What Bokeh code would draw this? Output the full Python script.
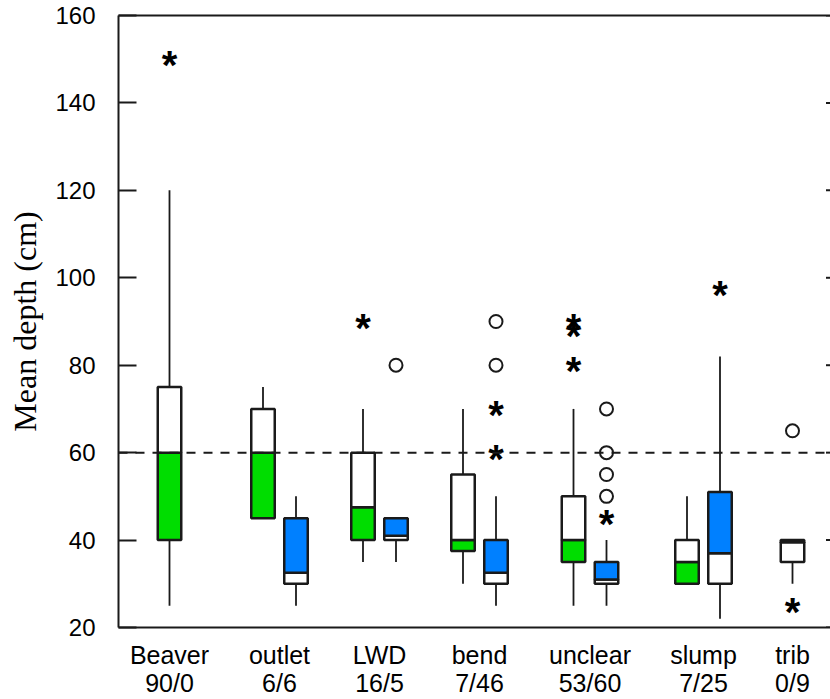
from bokeh.plotting import figure
from bokeh.models import Range1d, LinearAxis, FixedTicker, Span
from bokeh.core.properties import value
from bokeh.embed import file_html
from bokeh.resources import INLINE

# ---------------- data ----------------
categories = ["Beaver", "outlet", "LWD", "bend", "unclear", "slump", "trib"]
counts = ["90/0", "6/6", "16/5", "7/46", "53/60", "7/25", "0/9"]

# green series: lower whisker, Q1, median, Q3, upper whisker (None = no data)
g_lo = [25, 45, 35, 30, 25, 30, None]
g_q1 = [40, 45, 40, 37.5, 35, 30, None]
g_med = [60, 60, 47.5, 40, 40, 35, None]
g_q3 = [75, 70, 60, 55, 50, 40, None]
g_hi = [120, 75, 70, 70, 70, 50, None]

# blue series
b_lo = [None, 25, 35, 25, 25, 22, 30]
b_q1 = [None, 30, 40, 30, 30, 30, 35]
b_med = [None, 32.5, 41, 32.5, 31, 37, 39.5]
b_q3 = [None, 45, 45, 40, 35, 51, 40]
b_hi = [None, 50, 45, 50, 40, 82, 40]

# outliers
out_group = ["Beaver", "LWD", "unclear", "unclear", "unclear",
             "LWD", "bend", "bend", "bend", "bend",
             "unclear", "unclear", "unclear", "unclear", "unclear",
             "slump", "trib", "trib"]
out_series = ["g", "g", "g", "g", "g",
              "b", "b", "b", "b", "b",
              "b", "b", "b", "b", "b",
              "b", "b", "b"]
out_value = [150, 90, 90, 88, 80,
             80, 90, 80, 70, 60,
             70, 60, 55, 50, 45,
             97.5, 65, 25]
out_kind = ["star", "star", "star", "star", "star",
            "circle", "circle", "circle", "star", "star",
            "circle", "circle", "circle", "circle", "star",
            "star", "circle", "star"]

y_ticks = [20, 40, 60, 80, 100, 120, 140, 160]
ref_line = 60

# ---------------- layout (horizontal placement of groups) ----------------
group_x = [51, 161, 261, 361, 471.5, 585, 674]
pair_off = 16.5
half_w = 11.75
X_END = 712

GREEN = "#00DD00"
BLUE = "#0080FF"
LINE = "#1a1a1a"

W, H = 830, 699
p = figure(width=W, height=H, output_backend="svg", toolbar_location=None,
           x_range=Range1d(0, X_END), y_range=Range1d(20, 160),
           min_border_left=118, min_border_right=0, min_border_top=15,
           min_border_bottom=40, x_axis_location=None, y_axis_location=None)
p.outline_line_color = None
p.xgrid.visible = False
p.ygrid.visible = False
p.background_fill_color = "white"
p.border_fill_color = "white"


def bare(ax):
    ax.major_tick_in = 0
    ax.major_tick_out = 0
    ax.minor_tick_in = 0
    ax.minor_tick_out = 0


# axes
yax = LinearAxis(ticker=FixedTicker(ticks=y_ticks), axis_label="Mean depth (cm)")
bare(yax)
yax.major_tick_in = 18
yax.major_label_standoff = 23
yax.axis_label_standoff = 9
yax.major_label_text_font = "Liberation Sans"
yax.major_label_text_font_size = "24px"
yax.major_label_text_color = "black"
yax.axis_label_text_font = "Liberation Serif"
yax.axis_label_text_font_size = "32px"
yax.axis_label_text_font_style = "normal"
yax.axis_label_text_color = "black"
yax.axis_line_width = 2
yax.axis_line_color = LINE
yax.major_tick_line_width = 2
yax.major_tick_line_color = LINE
p.add_layout(yax, "left")

xax = LinearAxis(ticker=FixedTicker(ticks=group_x))
bare(xax)
xax.major_label_overrides = {gx: c for gx, c in zip(group_x, categories)}
xax.major_label_standoff = 13
xax.major_label_text_font = "Liberation Sans"
xax.major_label_text_font_size = "25px"
xax.major_label_text_color = "black"
xax.axis_line_width = 2
xax.axis_line_color = LINE
p.add_layout(xax, "below")

xax2 = LinearAxis(ticker=FixedTicker(ticks=group_x))
bare(xax2)
xax2.major_label_overrides = {gx: n for gx, n in zip(group_x, counts)}
xax2.major_label_standoff = -3
xax2.major_label_text_font = "Liberation Sans"
xax2.major_label_text_font_size = "25px"
xax2.major_label_text_color = "black"
xax2.axis_line_color = None
p.add_layout(xax2, "below")

top = LinearAxis(ticker=FixedTicker(ticks=[]))
bare(top)
top.major_label_standoff = 0
top.axis_line_width = 2
top.axis_line_color = LINE
p.add_layout(top, "above")

p.add_layout(Span(location=ref_line, dimension="width", line_dash="9 8",
                  line_width=2, line_color=LINE))

# right-hand inner tick marks at the frame edge
p.scatter(x=[X_END] * len(y_ticks), y=y_ticks, marker="dash", size=9,
          line_color=LINE, line_width=2)

# compute box centres
centers = {}
for i, c in enumerate(categories):
    has_g = g_med[i] is not None
    has_b = b_med[i] is not None
    if has_g and has_b:
        centers[(c, "g")] = group_x[i] - pair_off
        centers[(c, "b")] = group_x[i] + pair_off
    elif has_g:
        centers[(c, "g")] = group_x[i]
    else:
        centers[(c, "b")] = group_x[i]

wx0, wy0, wx1, wy1 = [], [], [], []
bl, br, bb, bt, bc = [], [], [], [], []
for i, c in enumerate(categories):
    for s, (lo, q1, med, q3, hi) in (("g", (g_lo[i], g_q1[i], g_med[i], g_q3[i], g_hi[i])),
                                     ("b", (b_lo[i], b_q1[i], b_med[i], b_q3[i], b_hi[i]))):
        if med is None:
            continue
        cx = centers[(c, s)]
        if hi > q3:
            wx0.append(cx); wx1.append(cx); wy0.append(q3); wy1.append(hi)
        if lo < q1:
            wx0.append(cx); wx1.append(cx); wy0.append(lo); wy1.append(q1)
        # lower part (Q1-median) and upper part (median-Q3)
        bl.append(cx - half_w); br.append(cx + half_w); bb.append(q1); bt.append(med)
        bc.append(GREEN if s == "g" else "white")
        bl.append(cx - half_w); br.append(cx + half_w); bb.append(med); bt.append(q3)
        bc.append("white" if s == "g" else BLUE)

p.segment(x0=wx0, y0=wy0, x1=wx1, y1=wy1, line_color=LINE, line_width=1.8)
p.quad(left=bl, right=br, bottom=bb, top=bt, fill_color=bc,
       line_color=LINE, line_width=2.5)

sx, sy, cxs, cys = [], [], [], []
for g, s, v, k in zip(out_group, out_series, out_value, out_kind):
    x = centers[(g, s)]
    if k == "star":
        sx.append(x); sy.append(v)
    else:
        cxs.append(x); cys.append(v)

p.scatter(x=cxs, y=cys, marker="circle", size=13, fill_color="white",
          line_color=LINE, line_width=2)
p.text(x=sx, y=sy, text=["*"] * len(sx), text_font=value("Liberation Sans"),
       text_font_size="40px", text_font_style="bold", text_align="center",
       text_baseline="middle", y_offset=6, text_color="black")

open("out.html", "w").write(file_html(p, INLINE))
